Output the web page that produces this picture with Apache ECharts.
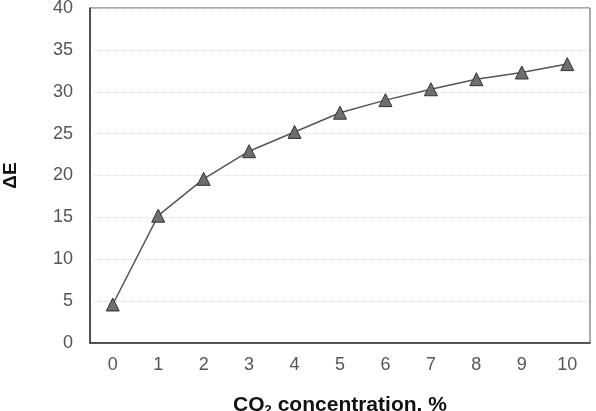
<!DOCTYPE html>
<html><head><meta charset="utf-8">
<script src="https://cdn.jsdelivr.net/npm/echarts@6/dist/echarts.min.js"></script>
<style>html,body{margin:0;padding:0;background:#fff}#c{width:596px;height:411px}</style>
</head><body><div id="c"></div>
<script>
var categories = ['0','1','2','3','4','5','6','7','8','9','10'];
var deltaE = [4.6, 15.2, 19.6, 22.9, 25.2, 27.5, 29.0, 30.3, 31.5, 32.3, 33.3];
var yTicks = {min: 0, max: 40, interval: 5};

var chart = echarts.init(document.getElementById('c'));
chart.setOption({
  animation: false,
  backgroundColor: '#fff',
  grid: {left: 90, right: 6, top: 8, bottom: 68, containLabel: false, outerBoundsMode: 'none',
         show: true, borderColor: '#555', borderWidth: 1},
  xAxis: {
    type: 'category', data: categories, boundaryGap: true,
    name: '{a|CO}{s|2}{a| concentration, %}', nameLocation: 'middle', nameGap: 51,
    nameTextStyle: {rich: {a: {fontFamily: 'Liberation Sans', fontSize: 21, fontWeight: 'bold', color: '#111'},
                           s: {fontFamily: 'Liberation Sans', fontSize: 13, fontWeight: 'bold', color: '#111', verticalAlign: 'bottom', padding: [10,0,0,0]}}},
    axisLine: {lineStyle: {color: '#333', width: 1.5}},
    axisTick: {inside: true, length: 4, lineStyle: {color: '#333'}},
    axisLabel: {color: '#555', fontFamily: 'Liberation Sans', fontSize: 18, margin: 13},
    splitLine: {show: false}
  },
  yAxis: {
    type: 'value', min: yTicks.min, max: yTicks.max, interval: yTicks.interval,
    name: 'ΔE', nameLocation: 'middle', nameGap: 70, nameRotate: 90,
    nameTextStyle: {fontFamily: 'Liberation Sans', fontSize: 19, fontWeight: 'bold', color: '#111'},
    axisLine: {show: true, lineStyle: {color: '#333', width: 1.5}},
    axisTick: {show: false},
    axisLabel: {color: '#555', fontFamily: 'Liberation Sans', fontSize: 18, margin: 17},
    splitLine: {lineStyle: {color: '#ddd', type: 'dotted', width: 1}}
  },
  series: [{
    type: 'line', data: deltaE,
    symbol: 'triangle', symbolSize: 13,
    lineStyle: {color: '#555', width: 1.5},
    itemStyle: {color: '#6e6e6e', borderColor: '#333', borderWidth: 1}
  }]
});
</script></body></html>
